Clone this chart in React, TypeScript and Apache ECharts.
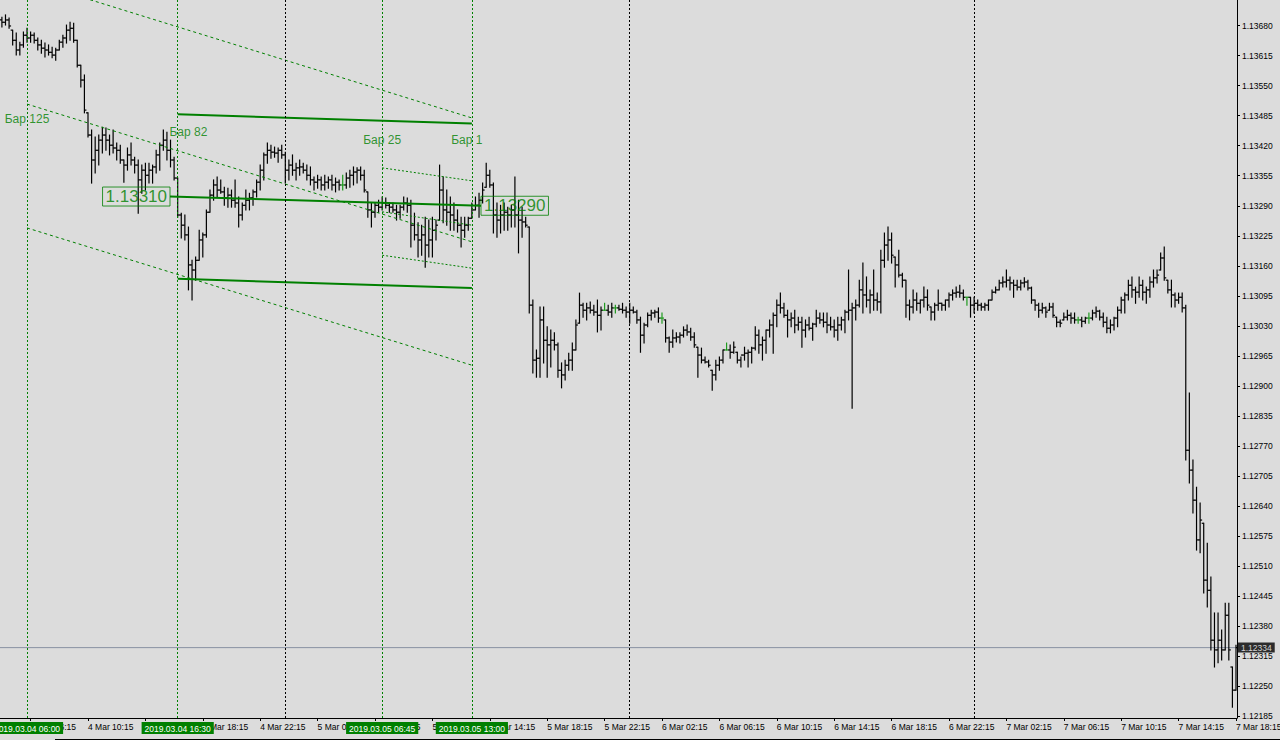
import React, { useEffect, useRef } from 'react';
import * as echarts from 'echarts';

// EURUSD M15 bars, prices in points: 13692 -> 1.13692
const barOpen = [
13692,13687,13692,13670,13648,13627,13638,13659,13653,13659,
13648,13638,13631,13627,13622,13616,13627,13644,13653,13670,
13674,13648,13594,13562,13491,13443,13389,13410,13432,13443,
13432,13421,13415,13410,13389,13378,13400,13389,13378,13346,
13367,13356,13367,13374,13400,13421,13432,13410,13389,13350,
13270,13248,13227,13162,13151,13172,13216,13227,13276,13313,
13335,13324,13320,13307,13313,13302,13296,13270,13291,13302,
13307,13320,13341,13367,13400,13410,13406,13404,13410,13400,
13367,13378,13367,13372,13374,13367,13356,13346,13341,13346,
13335,13341,13346,13335,13341,13335,13335,13350,13356,13363,
13367,13356,13320,13281,13276,13291,13287,13296,13291,13287,
13281,13276,13287,13296,13291,13248,13227,13216,13227,13205,
13216,13237,13259,13324,13281,13276,13270,13259,13248,13237,
13248,13263,13281,13291,13302,13330,13356,13335,13270,13259,
13270,13276,13270,13281,13270,13259,13255,13244,13075,12956,
12960,13043,12999,12989,12999,12989,12934,12924,12945,12956,
12978,13036,13075,13064,13069,13064,13060,13053,13064,13064,
13060,13069,13069,13066,13064,13060,13064,13060,13043,13010,
13032,13053,13058,13060,13047,13043,13004,12995,13004,13006,
13010,13021,13017,13006,12984,12967,12956,12952,12934,12924,
12945,12956,12978,12978,12973,12973,12956,12967,12971,12973,
12982,13010,12989,12999,13021,13032,13053,13075,13069,13053,
13043,13047,13032,13038,13021,13032,13025,13034,13047,13043,
13038,13032,13028,13021,13032,13043,13060,13064,13069,13075,
13108,13097,13086,13097,13086,13082,13172,13205,13216,13179,
13162,13140,13129,13075,13071,13086,13079,13086,13092,13071,
13060,13075,13079,13075,13086,13097,13101,13103,13101,13092,
13092,13075,13079,13075,13071,13075,13086,13103,13108,13123,
13125,13129,13123,13118,13114,13123,13125,13112,13086,13075,
13064,13069,13064,13071,13049,13038,13043,13049,13053,13047,
13043,13043,13040,13047,13047,13058,13062,13049,13038,13025,
13032,13047,13064,13086,13097,13118,13108,13103,13118,13103,
13108,13125,13134,13151,13177,13129,13108,13097,13086,13092,
13069,12761,12718,12653,12567,12603,12480,12458,12350,12329,
12350,12329,12404,12292,12242
];
const barHigh = [
13698,13703,13696,13670,13664,13644,13666,13674,13666,13664,
13653,13648,13642,13638,13633,13631,13648,13659,13681,13687,
13685,13648,13594,13573,13491,13454,13439,13443,13460,13458,
13443,13454,13426,13421,13389,13415,13426,13395,13389,13378,
13382,13382,13378,13410,13426,13454,13449,13432,13395,13350,
13274,13270,13244,13172,13179,13237,13231,13281,13324,13346,
13352,13346,13330,13328,13324,13346,13309,13296,13324,13317,
13324,13346,13378,13404,13426,13421,13417,13415,13421,13406,
13389,13400,13382,13389,13382,13378,13374,13352,13356,13352,
13356,13352,13356,13350,13346,13356,13361,13367,13374,13372,
13374,13367,13320,13296,13296,13302,13309,13307,13296,13296,
13291,13291,13309,13307,13302,13274,13253,13248,13265,13259,
13265,13259,13378,13352,13324,13309,13296,13281,13265,13265,
13265,13296,13309,13317,13339,13382,13367,13339,13296,13291,
13296,13287,13291,13352,13302,13287,13265,13244,13086,12978,
13071,13071,13028,13021,13015,12993,12950,12956,12971,12993,
13043,13101,13079,13079,13082,13075,13086,13071,13079,13075,
13079,13075,13075,13079,13071,13079,13071,13064,13049,13036,
13058,13064,13064,13069,13058,13043,13006,13021,13015,13015,
13028,13032,13025,13015,12984,12982,12963,12956,12934,12956,
12963,12978,12993,12989,12995,12973,12963,12984,12978,12984,
13028,13021,13006,13021,13043,13058,13086,13101,13079,13064,
13058,13064,13049,13049,13043,13049,13036,13064,13058,13058,
13058,13049,13043,13049,13049,13064,13151,13079,13086,13129,
13166,13136,13108,13151,13101,13194,13231,13244,13231,13179,
13194,13144,13129,13086,13108,13101,13086,13114,13108,13071,
13079,13108,13079,13086,13101,13108,13114,13118,13108,13092,
13092,13092,13086,13079,13079,13086,13108,13114,13129,13136,
13151,13136,13129,13129,13129,13134,13129,13114,13086,13079,
13079,13071,13079,13079,13049,13043,13058,13064,13058,13058,
13049,13049,13049,13058,13064,13071,13064,13058,13049,13043,
13049,13071,13092,13101,13129,13136,13114,13136,13129,13114,
13136,13151,13151,13188,13201,13129,13129,13101,13101,13101,
13075,12885,12740,12681,12647,12603,12560,12487,12409,12409,
12372,12430,12430,12292,12339
];
const barLow = [
13677,13681,13674,13638,13616,13616,13633,13644,13644,13642,
13627,13620,13612,13616,13610,13605,13627,13633,13642,13648,
13644,13590,13547,13491,13439,13339,13361,13378,13404,13410,
13400,13404,13389,13382,13341,13367,13378,13361,13274,13317,
13324,13339,13339,13361,13367,13410,13389,13374,13346,13265,
13220,13216,13108,13086,13129,13172,13179,13222,13276,13302,
13309,13317,13291,13287,13287,13287,13244,13259,13281,13281,
13291,13309,13324,13346,13382,13393,13395,13384,13393,13339,
13346,13356,13346,13356,13361,13346,13335,13324,13328,13324,
13324,13328,13324,13320,13324,13324,13328,13330,13335,13339,
13346,13320,13265,13244,13265,13276,13281,13285,13276,13276,
13259,13263,13281,13276,13201,13216,13179,13183,13157,13179,
13179,13216,13259,13253,13248,13237,13237,13233,13201,13222,
13237,13263,13281,13265,13296,13330,13330,13231,13222,13231,
13237,13237,13244,13244,13188,13222,13244,13058,12928,12919,
12919,12950,12919,12941,12978,12919,12896,12913,12934,12934,
12978,13036,13049,13043,13058,13053,13017,13021,13064,13053,
13049,13058,13064,13058,13049,13036,13058,13036,12973,12993,
13028,13043,13049,13038,13036,12995,12973,12984,12995,12993,
13006,13010,12999,12984,12919,12950,12950,12941,12891,12913,
12934,12950,12978,12960,12971,12950,12941,12956,12941,12950,
12978,12971,12956,12971,13006,12971,13028,13058,13049,13006,
13028,13015,13021,12984,13006,13021,12999,13028,13036,13028,
13015,13021,13006,12999,13021,13015,13043,12852,13043,13071,
13058,13071,13058,13064,13064,13058,13157,13172,13166,13114,
13136,13114,13049,13043,13058,13064,13058,13071,13064,13043,
13043,13064,13064,13064,13071,13086,13092,13092,13086,13075,
13049,13058,13064,13064,13064,13064,13086,13101,13108,13114,
13114,13108,13092,13108,13108,13114,13108,13079,13064,13049,
13058,13049,13064,13049,13028,13028,13043,13043,13036,13036,
13036,13028,13036,13036,13043,13049,13043,13028,13015,13015,
13021,13028,13058,13058,13086,13092,13079,13092,13086,13079,
13092,13114,13123,13151,13129,13101,13071,13071,13079,13060,
12740,12690,12625,12545,12539,12452,12422,12329,12292,12301,
12307,12329,12307,12205,12242
];
const barClose = [
13687,13692,13679,13648,13627,13638,13659,13653,13659,13648,
13638,13631,13627,13622,13616,13627,13644,13653,13670,13674,
13648,13594,13562,13497,13443,13389,13410,13432,13443,13432,
13421,13415,13410,13389,13378,13400,13389,13378,13346,13367,
13356,13367,13374,13400,13421,13432,13410,13389,13350,13270,
13248,13227,13162,13151,13172,13216,13227,13276,13313,13335,
13324,13320,13307,13313,13302,13296,13270,13291,13302,13307,
13320,13341,13367,13400,13410,13406,13404,13410,13400,13367,
13378,13367,13372,13374,13367,13356,13346,13341,13346,13335,
13341,13346,13335,13341,13335,13335,13350,13356,13363,13367,
13356,13324,13281,13276,13291,13287,13296,13291,13287,13281,
13276,13287,13296,13291,13248,13227,13216,13227,13205,13216,
13237,13248,13324,13281,13276,13270,13259,13248,13237,13248,
13263,13281,13291,13302,13324,13356,13335,13270,13259,13270,
13276,13270,13281,13270,13259,13255,13248,13075,12956,12960,
13043,12999,12989,12999,12989,12934,12924,12945,12956,12978,
13032,13075,13064,13069,13064,13060,13053,13064,13064,13060,
13069,13069,13066,13064,13060,13064,13060,13043,13010,13032,
13053,13058,13060,13047,13047,13004,12995,13004,13006,13010,
13021,13017,13006,12989,12967,12956,12952,12945,12924,12945,
12956,12978,12978,12973,12984,12956,12967,12971,12973,12982,
13010,12989,12999,13021,13032,13053,13075,13069,13053,13043,
13047,13032,13038,13021,13032,13025,13034,13047,13043,13038,
13032,13028,13021,13032,13043,13060,13064,13069,13075,13108,
13097,13086,13097,13086,13082,13172,13205,13216,13183,13162,
13140,13129,13075,13071,13086,13079,13086,13092,13075,13060,
13075,13079,13075,13086,13097,13101,13103,13101,13092,13092,
13075,13079,13075,13071,13075,13086,13103,13108,13123,13125,
13129,13123,13118,13114,13123,13125,13112,13086,13075,13064,
13069,13060,13071,13053,13038,13036,13049,13053,13047,13043,
13043,13040,13047,13047,13058,13062,13049,13038,13025,13032,
13047,13064,13086,13097,13118,13108,13103,13118,13103,13108,
13125,13134,13140,13177,13134,13108,13097,13086,13092,13069,
12761,12718,12653,12567,12610,12480,12458,12350,12329,12350,
12329,12404,12329,12242,12334
];

// time axis: bar 0 = 2019.03.04 04:15, one bar = 15 minutes
const timeTickBars = [8, 24, 40, 56, 72, 88, 104, 120, 136, 152, 168, 184, 200, 216, 232, 248, 264, 280, 296, 312, 328, 344];
const timeTickLabels = [
  '4 Mar 06:15', '4 Mar 10:15', '4 Mar 14:15', '4 Mar 18:15', '4 Mar 22:15',
  '5 Mar 02:15', '5 Mar 06:15', '5 Mar 10:15', '5 Mar 14:15', '5 Mar 18:15', '5 Mar 22:15',
  '6 Mar 02:15', '6 Mar 06:15', '6 Mar 10:15', '6 Mar 14:15', '6 Mar 18:15', '6 Mar 22:15',
  '7 Mar 02:15', '7 Mar 06:15', '7 Mar 10:15', '7 Mar 14:15', '7 Mar 18:15'
];
const priceTicks = [
  1.12185, 1.1225, 1.12315, 1.1238, 1.12445, 1.1251, 1.12575, 1.1264, 1.12705, 1.1277,
  1.12835, 1.129, 1.12965, 1.1303, 1.13095, 1.1316, 1.13225, 1.1329, 1.13355, 1.1342,
  1.13485, 1.1355, 1.13615, 1.1368
];

// vertical markers
const markerBars = [7, 49, 106, 131];
const markerLabels = ['2019.03.04 06:00', '2019.03.04 16:30', '2019.03.05 06:45', '2019.03.05 13:00'];
const daySeparatorBars = [79, 175, 271];

// channels: [startBar, endBar] and prices at both ends
const channelLongBars = [7, 131];
const channelLongUpper = [1.13778, 1.1348];
const channelLongMid = [1.1351, 1.13212];
const channelLongLower = [1.13242, 1.12945];
const channel82Bars = [49, 131];
const channel82Upper = [1.13488, 1.13468];
const channel82Lower = [1.13132, 1.13112];
const trendBars = [46.86, 133.55];
const trendPrices = [1.1331, 1.1329];
const channel25Bars = [106, 131];
const channel25Upper = [1.13372, 1.13344];
const channel25Mid = [1.13277, 1.13248];
const channel25Lower = [1.13183, 1.13155];

const barTexts = ['Бар 125', 'Бар 82', 'Бар 25', 'Бар 1'];
const barTextBars = [7, 52, 106, 129.6];
const barTextPrices = [1.13478, 1.1345, 1.13432, 1.13432];

const lastPrice = 1.12334;

const X_MIN = -0.53;
const X_MAX = 344.28;
const Y_MIN = 1.121817;
const Y_MAX = 1.137352;

const FONT = '"Liberation Sans", Arial, sans-serif';
const GREEN = '#008000';
const BG = '#dcdcdc';

const toPrice = (p: number) => +(1 + p / 100000).toFixed(5);

function buildOption(): any {
  const ohlc = barOpen.map((o, i) => [i, toPrice(o), toPrice(barHigh[i]), toPrice(barLow[i]), toPrice(barClose[i])]);

  const lineSeries = (bars: number[], prices: number[], style: any, extra: any = {}) => ({
    type: 'line',
    data: bars.map((b, i) => [b, prices[i]]),
    symbol: 'none',
    showSymbol: false,
    silent: true,
    clip: true,
    z: 4,
    lineStyle: style,
    ...extra,
  });

  const dashed = { color: GREEN, width: 1, type: [3, 3] };
  const dotted = { color: GREEN, width: 1, type: [2, 2] };
  const solid = { color: GREEN, width: 2, type: 'solid' };

  const markLineData: any[] = [
    ...markerBars.map((b, i) => ({
      xAxis: b,
      lineStyle: { color: GREEN, width: 1, type: [2, 2] },
      label: {
        show: true,
        position: 'start',
        formatter: markerLabels[i],
        color: '#ffffff',
        backgroundColor: GREEN,
        padding: [2, 3, 1, 3],
        fontSize: 8.5,
        fontFamily: FONT,
        distance: 4,
      },
    })),
    ...daySeparatorBars.map((b) => ({
      xAxis: b,
      lineStyle: { color: '#000000', width: 1, type: [2, 2] },
      label: { show: false },
    })),
  ];

  return {
    animation: false,
    backgroundColor: BG,
    grid: { left: 0, top: 0, right: 43, bottom: 22, containLabel: false, outerBoundsMode: 'none' },
    xAxis: {
      type: 'value',
      min: X_MIN,
      max: X_MAX,
      axisLine: { show: true, onZero: false, lineStyle: { color: '#000', width: 1 } },
      axisTick: { show: true, length: 3, customValues: timeTickBars, lineStyle: { color: '#000' } },
      axisLabel: {
        show: true,
        customValues: timeTickBars,
        formatter: (v: number) => {
          const k = timeTickBars.indexOf(Math.round(v));
          return k >= 0 ? timeTickLabels[k] : '';
        },
        align: 'left',
        color: '#000',
        fontSize: 8.5,
        fontFamily: FONT,
        margin: 4,
      },
      splitLine: { show: false },
    },
    yAxis: {
      type: 'value',
      position: 'right',
      min: Y_MIN,
      max: Y_MAX,
      axisLine: { show: true, onZero: false, lineStyle: { color: '#000', width: 1 } },
      axisTick: { show: true, length: 3, customValues: priceTicks, lineStyle: { color: '#000' } },
      axisLabel: {
        customValues: priceTicks,
        formatter: (v: number) => v.toFixed(5),
        color: '#000',
        fontSize: 8.5,
        fontFamily: FONT,
        margin: 5,
      },
      splitLine: { show: false },
    },
    series: [
      // current price line (drawn under the bars)
      lineSeries([X_MIN, X_MAX], [lastPrice, lastPrice], { color: '#8a93a3', width: 1, type: 'solid' }, { z: 1 }),
      {
        type: 'custom',
        clip: true,
        z: 2,
        silent: true,
        data: ohlc,
        encode: { x: 0, y: [1, 2, 3, 4] },
        renderItem: (_params: any, api: any) => {
          const x = api.value(0);
          const o = api.value(1);
          const h = api.value(2);
          const l = api.value(3);
          const c = api.value(4);
          const pH = api.coord([x, h]);
          const pL = api.coord([x, l]);
          const pO = api.coord([x, o]);
          const pC = api.coord([x, c]);
          const color = o === c ? '#1f9a1f' : '#000000';
          const px = pH[0];
          const st = { stroke: color, lineWidth: 1.2 };
          return {
            type: 'group',
            children: [
              { type: 'line', shape: { x1: px, y1: pH[1] - 0.5, x2: px, y2: pL[1] + 0.5 }, style: st },
              { type: 'line', shape: { x1: px - 2, y1: pO[1], x2: px, y2: pO[1] }, style: st },
              { type: 'line', shape: { x1: px, y1: pC[1], x2: px + 2, y2: pC[1] }, style: st },
            ],
          };
        },
      },
      lineSeries(channelLongBars, channelLongUpper, dashed, {
        markLine: { silent: true, symbol: ['none', 'none'], animation: false, data: markLineData },
      }),
      lineSeries(channelLongBars, channelLongMid, dashed),
      lineSeries(channelLongBars, channelLongLower, dashed),
      lineSeries(channel82Bars, channel82Upper, solid),
      lineSeries(trendBars, trendPrices, solid),
      lineSeries(channel82Bars, channel82Lower, solid),
      lineSeries(channel25Bars, channel25Upper, dotted),
      lineSeries(channel25Bars, channel25Mid, dotted),
      lineSeries(channel25Bars, channel25Lower, dotted),
      {
        type: 'scatter',
        silent: true,
        z: 5,
        symbolSize: 0,
        data: barTexts.map((t, i) => ({ value: [barTextBars[i], barTextPrices[i]], name: t })),
        label: {
          show: true,
          position: 'inside',
          formatter: (p: any) => p.name,
          color: GREEN,
          fontSize: 12,
          fontFamily: FONT,
        },
      },
      {
        type: 'scatter',
        silent: true,
        z: 5,
        symbolSize: 0,
        data: [
          { value: [trendBars[0], trendPrices[0]], label: { position: 'left' } },
          { value: [trendBars[1], trendPrices[1]], label: { position: 'right' } },
        ],
        label: {
          show: true,
          distance: 0,
          formatter: (p: any) => p.value[1].toFixed(5),
          color: GREEN,
          fontSize: 17,
          fontFamily: FONT,
          borderColor: GREEN,
          borderWidth: 1,
          padding: [2, 3, 0, 3],
        },
      },
      // current price tag on the price scale
      {
        type: 'scatter',
        silent: true,
        clip: false,
        z: 6,
        symbolSize: 0,
        data: [[X_MAX, lastPrice]],
        label: {
          show: true,
          position: 'right',
          distance: 1,
          formatter: lastPrice.toFixed(5),
          color: '#ffffff',
          backgroundColor: '#000000',
          padding: [1, 3, 0, 3],
          fontSize: 8.5,
          fontFamily: FONT,
        },
      },
    ],
    graphic: [
      {
        type: 'line',
        silent: true,
        shape: { x1: 55, y1: 739.5, x2: 1280, y2: 739.5 },
        style: { stroke: '#000', lineWidth: 1 },
      },
    ],
  };
}

export default function App() {
  const ref = useRef<HTMLDivElement>(null);
  useEffect(() => {
    if (!ref.current) return;
    const chart = echarts.init(ref.current, null, { renderer: 'svg' });
    chart.setOption(buildOption());
    return () => {
      chart.dispose();
    };
  }, []);
  return (
    <div
      ref={ref}
      style={{ position: 'absolute', left: 0, top: 0, width: 1280, height: 740, background: BG }}
    />
  );
}
